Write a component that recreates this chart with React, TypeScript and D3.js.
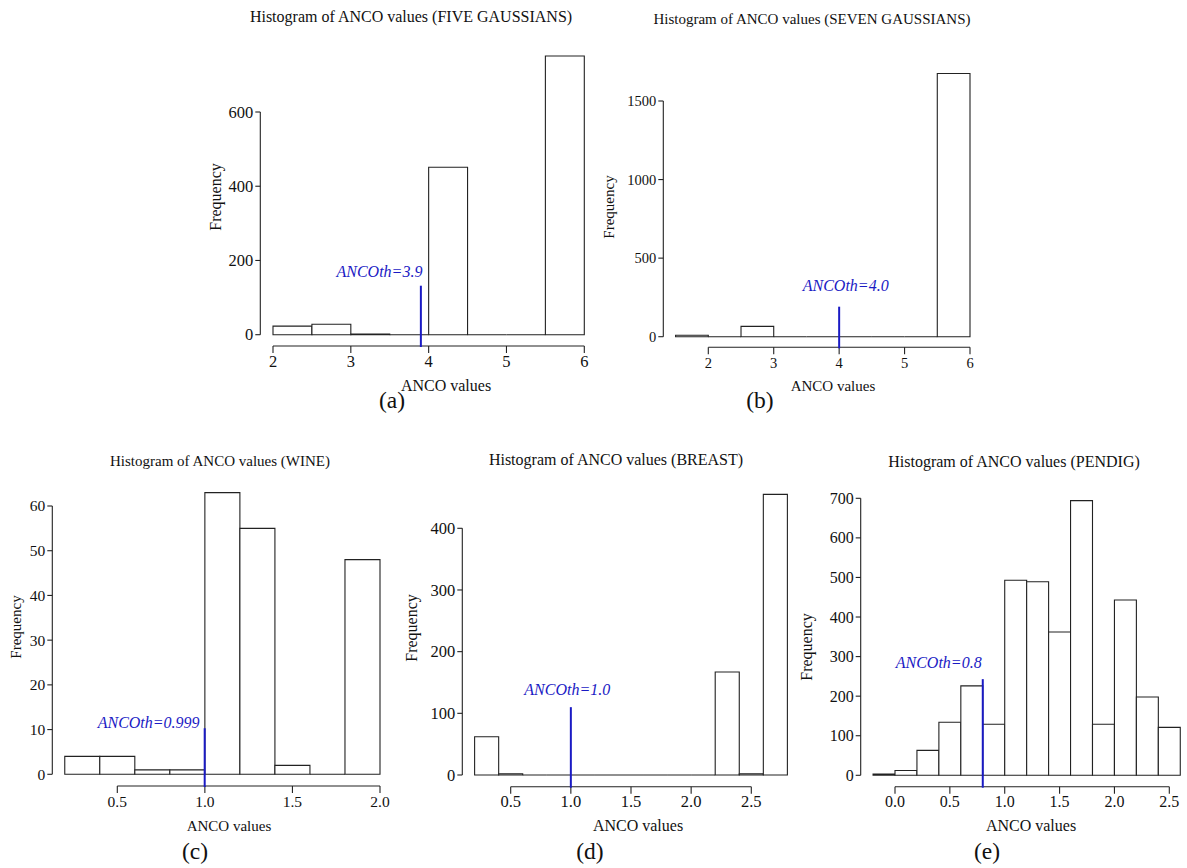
import React from "react"
import * as d3 from "d3"

const FONT = "'Liberation Serif', 'Times New Roman', Times, serif"
const BLUE = "#1a1ac4"

// counts per bin
const fiveCounts = [23, 28, 2, 0, 451, 0, 0, 751]
const sevenCounts = [9, 0, 66, 0, 0, 0, 0, 0, 1675]
const wineCounts = [4, 4, 1, 1, 63, 55, 2, 0, 48]
const breastCounts = [62, 2, 0, 0, 0, 0, 0, 0, 0, 0, 167, 2, 455]
const pendigCounts = [3, 12, 63, 134, 226, 129, 493, 489, 362, 694, 129, 443, 198, 121]

// bin start and width
const binStarts = [2, 1.5, 0.2, 0.2, -0.2]
const binWidths = [0.5, 0.5, 0.2, 0.2, 0.2]

// threshold value, height of the marker line, label text
const thresholds = [3.9, 4.0, 0.999, 1.0, 0.8]
const thresholdTops = [132, 191, 10.3, 110, 243]
const thresholdLabels = ["ANCOth=3.9", "ANCOth=4.0", "ANCOth=0.999", "ANCOth=1.0", "ANCOth=0.8"]

const titles = [
  "Histogram of ANCO values (FIVE GAUSSIANS)",
  "Histogram of ANCO values (SEVEN GAUSSIANS)",
  "Histogram of ANCO values (WINE)",
  "Histogram of ANCO values (BREAST)",
  "Histogram of ANCO values (PENDIG)",
]
const captions = ["(a)", "(b)", "(c)", "(d)", "(e)"]

const xTicks = [
  [2, 3, 4, 5, 6],
  [2, 3, 4, 5, 6],
  [0.5, 1.0, 1.5, 2.0],
  [0.5, 1.0, 1.5, 2.0, 2.5],
  [0.0, 0.5, 1.0, 1.5, 2.0, 2.5],
]
const yTicks = [
  [0, 200, 400, 600],
  [0, 500, 1000, 1500],
  [0, 10, 20, 30, 40, 50, 60],
  [0, 100, 200, 300, 400],
  [0, 100, 200, 300, 400, 500, 600, 700],
]

// pixel frames of the panels (each sub-figure was scaled a little differently)
const frames = [
  { x0: 273, x1: 584.3, y0: 334.7, y1: 112, axX: 260.3, axY: 346, titleX: 411, titleY: 21.5, freqX: 220.5, freqY: 197, labX: 446, labY: 391, capX: 392, capY: 408, thX: 3.92, thY: 155, thAnchor: "end", fs: 16, ts: 16.5 },
  { x0: 708.3, x1: 970, y0: 336.7, y1: 101, axX: 663.3, axY: 347.3, titleX: 812, titleY: 24, freqX: 614, freqY: 207, labX: 833, labY: 391, capX: 760, capY: 408, thX: 4.1, thY: 293, thAnchor: "middle", fs: 15, ts: 14.5 },
  { x0: 117.3, x1: 380, y0: 774.3, y1: 506, axX: 52.3, axY: 786, titleX: 220, titleY: 466, freqX: 20.5, freqY: 627, labX: 229, labY: 831, capX: 195, capY: 859, thX: 0.97, thY: 10.4, thAnchor: "end", fs: 15, ts: 15.5 },
  { x0: 510.7, x1: 751.3, y0: 775, y1: 528.3, axX: 462.3, axY: 786.7, titleX: 616, titleY: 465, freqX: 416.5, freqY: 628, labX: 638, labY: 831, capX: 590, capY: 859, thX: 0.97, thY: 130, thAnchor: "middle", fs: 16, ts: 16.5 },
  { x0: 895, x1: 1169.3, y0: 775.3, y1: 498.3, axX: 860.7, axY: 786.7, titleX: 1014, titleY: 466.5, freqX: 811.5, freqY: 647, labX: 1031, labY: 831, capX: 987, capY: 859, thX: 0.79, thY: 270, thAnchor: "end", fs: 16, ts: 16 },
]

const allCounts = [fiveCounts, sevenCounts, wineCounts, breastCounts, pendigCounts]

function Panel({ i }: { i: number }) {
  const f = frames[i]
  const xt = xTicks[i]
  const yt = yTicks[i]
  const counts = allCounts[i]
  const x = d3.scaleLinear().domain([xt[0], xt[xt.length - 1]]).range([f.x0, f.x1])
  const y = d3.scaleLinear().domain([yt[0], yt[yt.length - 1]]).range([f.y0, f.y1])
  const fmt = i >= 2 ? d3.format(".1f") : d3.format("d")
  const bins = counts.map((c, k) => ({
    lo: binStarts[i] + k * binWidths[i],
    hi: binStarts[i] + (k + 1) * binWidths[i],
    c,
  }))
  const th = thresholds[i]

  // bars as closed paths so empty bins still show as a flat line
  const barPath = (b: { lo: number; hi: number; c: number }) => {
    const p = d3.path()
    p.moveTo(x(b.lo), y(0))
    p.lineTo(x(b.lo), y(b.c))
    p.lineTo(x(b.hi), y(b.c))
    p.lineTo(x(b.hi), y(0))
    p.closePath()
    return p.toString()
  }

  return (
    <g fontFamily={FONT} fill="#111">
      <text x={f.titleX} y={f.titleY} fontSize={f.fs} textAnchor="middle">
        {titles[i]}
      </text>
      {bins.map((b, k) => (
        <path key={k} d={barPath(b)} fill="white" stroke="#222" strokeWidth={1.1} />
      ))}
      {/* y axis */}
      <line x1={f.axX} x2={f.axX} y1={y(yt[0])} y2={y(yt[yt.length - 1])} stroke="#222" strokeWidth={1.1} />
      {yt.map(t => (
        <g key={t}>
          <line x1={f.axX - 5} x2={f.axX} y1={y(t)} y2={y(t)} stroke="#222" strokeWidth={1.1} />
          <text x={f.axX - 7} y={y(t)} dy="0.35em" fontSize={f.ts} textAnchor="end">
            {t}
          </text>
        </g>
      ))}
      {/* x axis */}
      <line x1={x(xt[0])} x2={x(xt[xt.length - 1])} y1={f.axY} y2={f.axY} stroke="#222" strokeWidth={1.1} />
      {xt.map(t => (
        <g key={t}>
          <line x1={x(t)} x2={x(t)} y1={f.axY} y2={f.axY + 7} stroke="#222" strokeWidth={1.1} />
          <text x={x(t)} y={f.axY + 20.5} fontSize={f.ts} textAnchor="middle">
            {fmt(t)}
          </text>
        </g>
      ))}
      <text
        transform={`translate(${f.freqX},${f.freqY}) rotate(-90)`}
        fontSize={f.fs}
        textAnchor="middle"
      >
        Frequency
      </text>
      <text x={f.labX} y={f.labY} fontSize={f.fs} textAnchor="middle">
        ANCO values
      </text>
      <text x={f.capX} y={f.capY} fontSize={23.5} textAnchor="middle">
        {captions[i]}
      </text>
      {/* threshold marker */}
      <line x1={x(th)} x2={x(th)} y1={f.axY + 1} y2={y(thresholdTops[i])} stroke={BLUE} strokeWidth={2} />
      <text
        x={x(f.thX)}
        y={y(f.thY)}
        fontSize={16}
        fontStyle="italic"
        fill={BLUE}
        textAnchor={f.thAnchor as any}
      >
        {thresholdLabels[i]}
      </text>
    </g>
  )
}

export default function App() {
  return (
    <svg
      width={1187}
      height={868}
      style={{ position: "absolute", left: 0, top: 0, background: "white" }}
    >
      {frames.map((_, i) => (
        <Panel key={i} i={i} />
      ))}
    </svg>
  )
}
